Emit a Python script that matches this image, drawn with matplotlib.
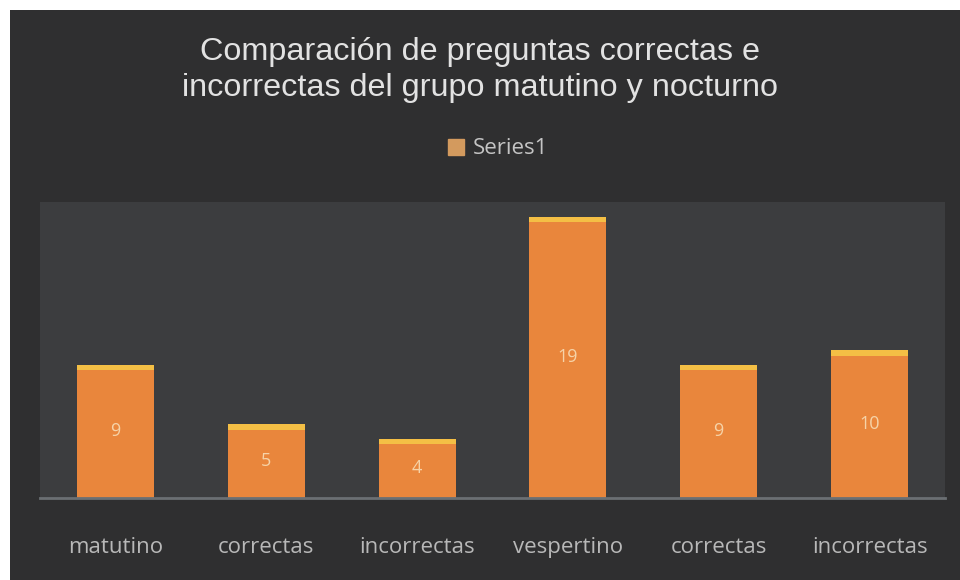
import numpy as np
import matplotlib
matplotlib.use("Agg")
import matplotlib.pyplot as plt
from matplotlib.patches import Rectangle

# data
categorias = ["matutino", "correctas", "incorrectas", "vespertino", "correctas", "incorrectas"]
valores = [9, 5, 4, 19, 9, 10]
serie = "Series1"
titulo = "Comparación de preguntas correctas e\nincorrectas del grupo matutino y nocturno"

bg = "#2f2f30"
plot_bg = "#3c3d3f"
naranja = "#e9863c"
amarillo = "#f4bf45"

fig = plt.figure(figsize=(9.6, 5.8), dpi=100, facecolor="white")
fig.patches.append(Rectangle((10/960, 0), 1, 1 - 10/580, transform=fig.transFigure,
                             facecolor=bg, edgecolor="none", zorder=-10))

ax = fig.add_axes([40/960, (580-498)/580, (945-40)/960, (498-202)/580])
ax.set_facecolor(plot_bg)

x = np.arange(len(categorias))
vals = np.array(valores, dtype=float)
bars = ax.bar(x, vals, width=0.51, color=naranja, edgecolor="none", zorder=2, label=serie)
# thin highlight at the top of each bar
ax.bar(x, np.full(len(vals), 0.38), bottom=vals-0.38, width=0.51, color=amarillo,
       edgecolor="none", zorder=3)

for xi, v in zip(x, vals):
    ax.text(xi, v/2, f"{int(v)}", ha="center", va="center", color="#f6d3a8",
            fontsize=13, family="Open Sans", zorder=4)

ax.set_xlim(-0.5, len(categorias)-0.5)
ax.set_ylim(0, 20)
ax.set_yticks([])
ax.set_xticks(x)
ax.set_xticklabels(categorias, color="#b8b8b8", fontsize=16, family="Open Sans")
ax.tick_params(axis="x", length=0, pad=28)
for s in ["top", "right", "left"]:
    ax.spines[s].set_visible(False)
ax.spines["bottom"].set_color("#6b6f73")
ax.spines["bottom"].set_linewidth(2)

fig.text(480/960, 1 - 70/580, titulo, ha="center", va="center", color="#e2e2e2",
         fontsize=23.3, family="Liberation Sans", linespacing=1.3)

leg = fig.legend(handles=[bars], labels=[serie], loc="center", bbox_to_anchor=(498/960, 1 - 149/580),
                 frameon=False, handlelength=0.7, handleheight=0.7, handletextpad=0.4,
                 prop={"family": "Open Sans", "size": 16})
leg.get_texts()[0].set_color("#c4c4c4")
leg.legend_handles[0].set_color("#d39a5e")

fig.savefig("out.png", dpi=100, facecolor=fig.get_facecolor())
